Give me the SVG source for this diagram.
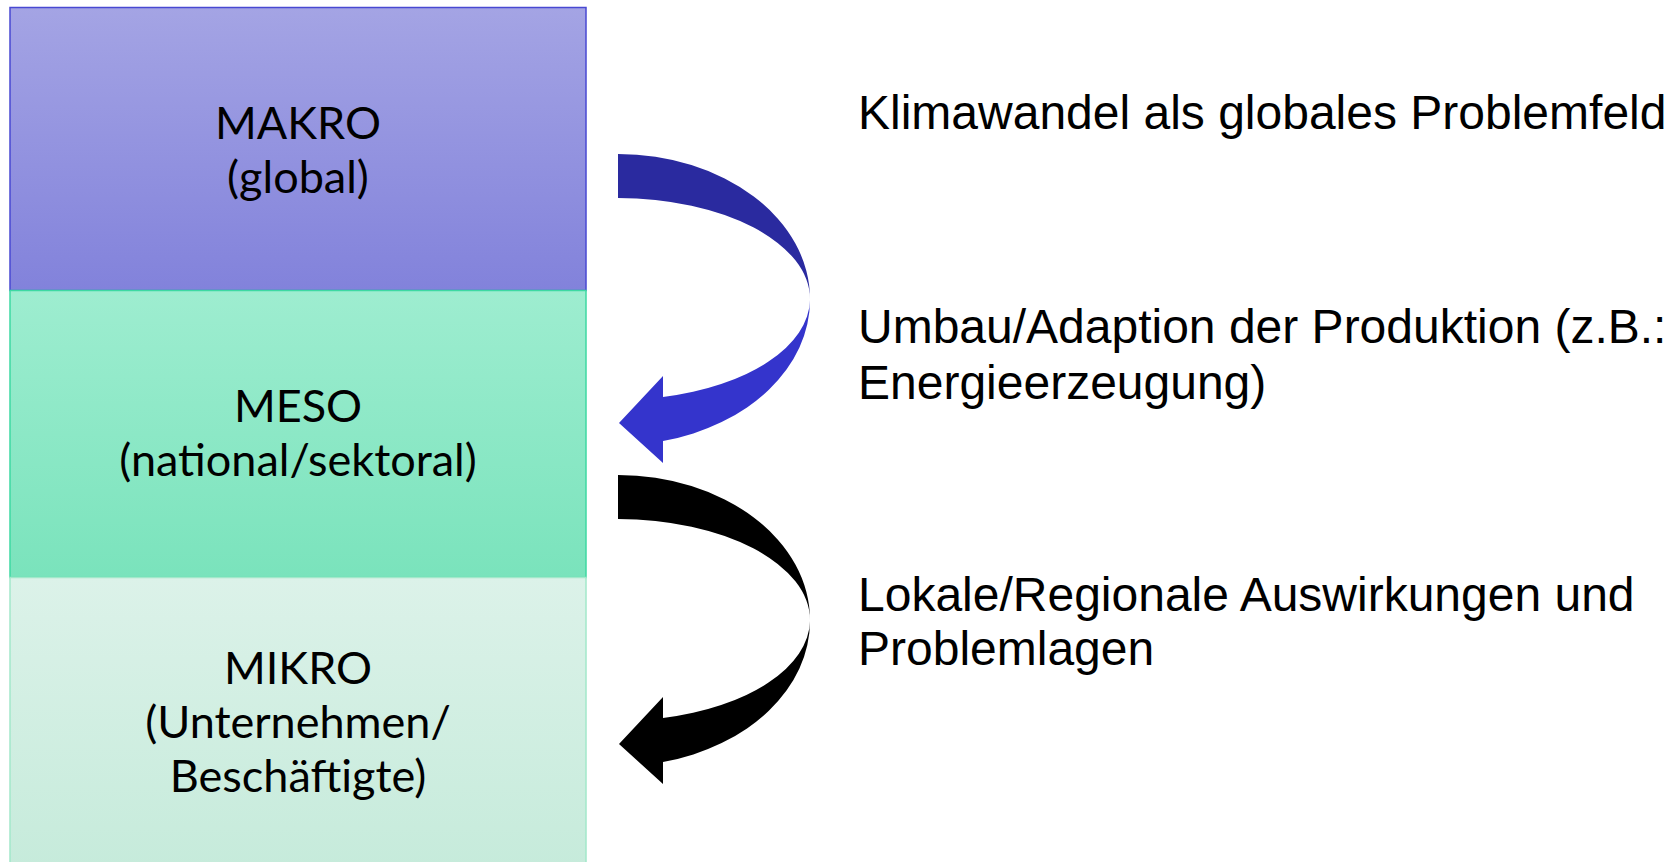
<svg xmlns="http://www.w3.org/2000/svg" width="1676" height="862" viewBox="0 0 1676 862">
<style>
.lbl{font-family:Lato,"Noto Sans",sans-serif;font-size:45px;fill:#000;text-anchor:middle}
.txt{font-family:"Liberation Sans",Arial,sans-serif;font-size:48px;fill:#000}
</style>
<defs>
<linearGradient id="gMakro" x1="0" y1="0" x2="0" y2="1"><stop offset="0" stop-color="#A4A4E4"/><stop offset="1" stop-color="#8282DB"/></linearGradient>
<linearGradient id="gMeso" x1="0" y1="0" x2="0" y2="1"><stop offset="0" stop-color="#9EEDD0"/><stop offset="1" stop-color="#7AE3BC"/></linearGradient>
<linearGradient id="gMikro" x1="0" y1="0" x2="0" y2="1"><stop offset="0" stop-color="#DCF2E9"/><stop offset="1" stop-color="#C6EBDB"/></linearGradient>
<path id="upper" d="M618 154 A192 145 0 0 1 810 299 A192 101 0 0 0 618 198 Z"/>
<path id="lower" d="M810 300 A192 145 0 0 1 663 441 L663 463 L619 423 L663 376 L663 397 A192 101 0 0 0 810 300 Z"/>
</defs>
<g id="makro">
<rect x="10" y="7.5" width="576" height="283" fill="url(#gMakro)" stroke="#4848D2" stroke-width="1.5"/>
<text class="lbl" x="298" y="139">MAKRO</text>
<text class="lbl" x="298" y="193">(global)</text>
</g>
<g id="meso">
<rect x="10" y="290.5" width="576" height="287" fill="url(#gMeso)" stroke="#3ED9A2" stroke-width="1.5"/>
<text class="lbl" x="298" y="422">MESO</text>
<text class="lbl" x="298" y="476">(national/sektoral)</text>
</g>
<g id="mikro">
<rect x="10" y="577.5" width="576" height="290" fill="url(#gMikro)" stroke="#A2E8CA" stroke-width="1.5"/>
<text class="lbl" x="298" y="684">MIKRO</text>
<text class="lbl" x="298" y="738">(Unternehmen/</text>
<text class="lbl" x="298" y="792">Beschäftigte)</text>
</g>
<g id="connectors">
<g id="arrow1">
<use href="#upper" fill="#2A2A9F"/>
<use href="#lower" fill="#3434CC"/>
</g>
<g id="arrow2" transform="translate(0,321)">
<use href="#upper" fill="#000"/>
<use href="#lower" fill="#000"/>
</g>
</g>
<g id="labels">
<text class="txt" x="858" y="129">Klimawandel als globales Problemfeld</text>
<text class="txt" x="858" y="343">Umbau/Adaption der Produktion (z.B.:</text>
<text class="txt" x="858" y="399">Energieerzeugung)</text>
<text class="txt" x="858" y="611">Lokale/Regionale Auswirkungen und</text>
<text class="txt" x="858" y="665">Problemlagen</text>
</g>
</svg>
